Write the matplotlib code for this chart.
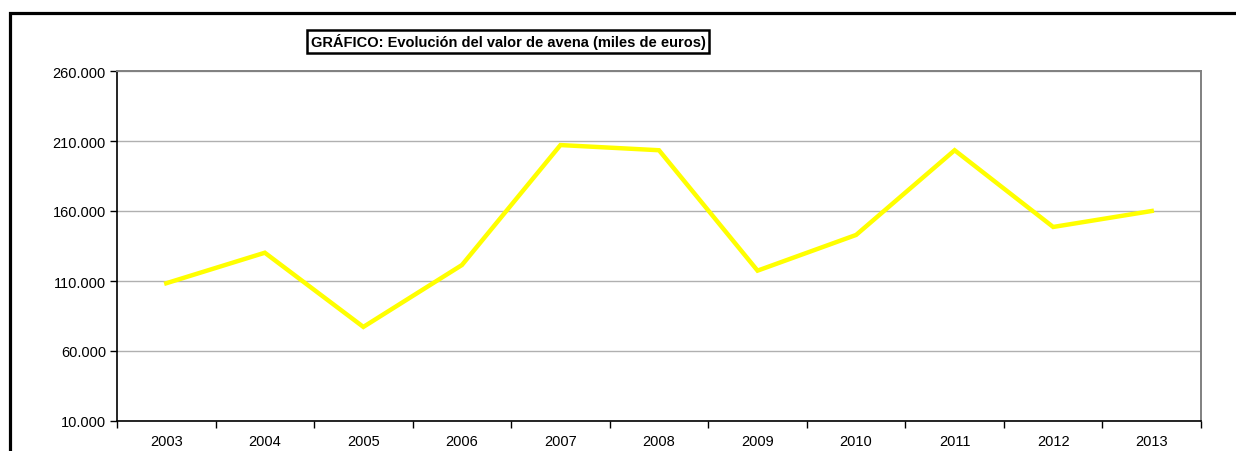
import matplotlib
matplotlib.use("Agg")
import matplotlib.pyplot as plt
from matplotlib.patches import Rectangle
from matplotlib.ticker import FuncFormatter, FixedLocator

years = ["2003", "2004", "2005", "2006", "2007", "2008", "2009", "2010", "2011", "2012", "2013"]
values = [108400, 130200, 77200, 121400, 207100, 203400, 117400, 142900, 203400, 148600, 160000]
y_ticks = [10000, 60000, 110000, 160000, 210000, 260000]
title = "GRÁFICO: Evolución del valor de avena (miles de euros)"

plt.rcParams['font.family'] = ['Liberation Sans', 'DejaVu Sans']

W, H = 1236, 452
fig = plt.figure(figsize=(W / 100, H / 100), dpi=100)
fig.patch.set_facecolor("white")

# outer frame (extends past right/bottom edges)
fig.add_artist(Rectangle((9.5 / W, -0.2), 1.3, (H - 13.5) / H + 0.2,
                         transform=fig.transFigure, fill=False,
                         edgecolor="black", linewidth=2.3, clip_on=False))

ax = fig.add_axes([117 / W, (H - 422) / H, (1201 - 117) / W, (422 - 72) / H])
x = list(range(len(years)))
ax.plot(x, values, color="#FFFF00", linewidth=3.2, solid_joinstyle="miter", zorder=3)

ax.set_xlim(-0.5, len(years) - 0.5)
ax.set_ylim(y_ticks[0], y_ticks[-1])
ax.set_yticks(y_ticks)
ax.yaxis.set_major_formatter(FuncFormatter(lambda v, p: f"{int(v):,}".replace(",", ".")))
ax.xaxis.set_major_locator(FixedLocator([i - 0.5 for i in range(len(years) + 1)]))
ax.xaxis.set_minor_locator(FixedLocator(x))
ax.xaxis.set_minor_formatter(FuncFormatter(lambda v, p: years[int(round(v))] if 0 <= int(round(v)) < len(years) else ""))
ax.xaxis.set_major_formatter(FuncFormatter(lambda v, p: ""))
ax.tick_params(axis="x", which="major", direction="out", length=5, width=1, color="black")
ax.tick_params(axis="x", which="minor", length=0, labelsize=10.5, pad=9.5)
ax.tick_params(axis="y", direction="out", length=5, width=1, color="black", labelsize=10.5, pad=3)

ax.grid(axis="y", color="#b0b0b0", linewidth=1)
ax.set_axisbelow(True)
for s in ["left", "bottom"]:
    ax.spines[s].set_color("black")
    ax.spines[s].set_linewidth(1.2)
for s in ["top", "right"]:
    ax.spines[s].set_color("#808080")
    ax.spines[s].set_linewidth(1.4)

fig.text(508 / W, (H - 42.5) / H, title, ha="center", va="center",
         fontsize=10.5, fontweight="bold",
         bbox=dict(boxstyle="square,pad=0.22", facecolor="white", edgecolor="black", linewidth=1.8))

fig.savefig("out.png", dpi=100)
